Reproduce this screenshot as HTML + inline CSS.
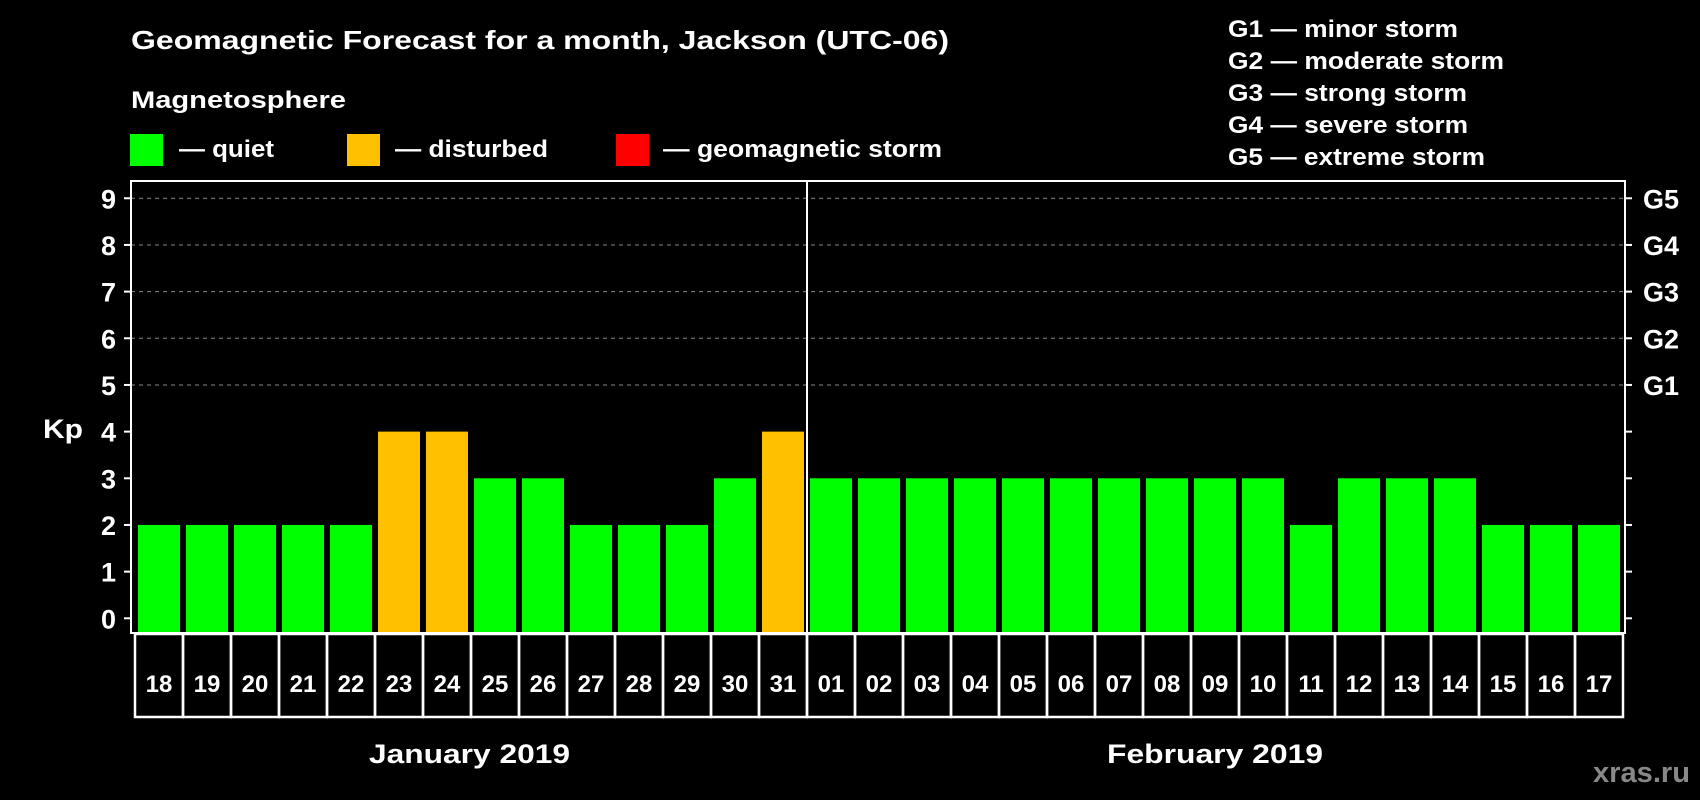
<!DOCTYPE html>
<html><head><meta charset="utf-8"><style>
body{margin:0;background:#000;}
svg{display:block;font-family:"Liberation Sans",sans-serif;font-weight:bold;}
</style></head><body>
<svg id="c" width="1700" height="800" viewBox="0 0 1700 800">
<text x="131" y="49" fill="#fff" font-size="26" textLength="818" lengthAdjust="spacingAndGlyphs">Geomagnetic Forecast for a month, Jackson (UTC-06)</text>
<text x="131" y="108" fill="#fff" font-size="24" textLength="215" lengthAdjust="spacingAndGlyphs">Magnetosphere</text>
<rect x="130" y="134" width="33" height="32" fill="#00ff00"/>
<text x="179" y="157" fill="#fff" font-size="24" textLength="95" lengthAdjust="spacingAndGlyphs">— quiet</text>
<rect x="347" y="134" width="33" height="32" fill="#ffc000"/>
<text x="395" y="157" fill="#fff" font-size="24" textLength="153" lengthAdjust="spacingAndGlyphs">— disturbed</text>
<rect x="616" y="134" width="33" height="32" fill="#ff0000"/>
<text x="663" y="157" fill="#fff" font-size="24" textLength="279" lengthAdjust="spacingAndGlyphs">— geomagnetic storm</text>
<g fill="#fff" font-size="24" lengthAdjust="spacingAndGlyphs">
<text x="1228" y="37" textLength="230" lengthAdjust="spacingAndGlyphs">G1 — minor storm</text>
<text x="1228" y="69" textLength="276" lengthAdjust="spacingAndGlyphs">G2 — moderate storm</text>
<text x="1228" y="101" textLength="239" lengthAdjust="spacingAndGlyphs">G3 — strong storm</text>
<text x="1228" y="133" textLength="240" lengthAdjust="spacingAndGlyphs">G4 — severe storm</text>
<text x="1228" y="165" textLength="257" lengthAdjust="spacingAndGlyphs">G5 — extreme storm</text>
</g>
<text x="43" y="438" fill="#fff" font-size="27" textLength="40" lengthAdjust="spacingAndGlyphs">Kp</text>
<g id="plot"></g>
<text x="369" y="763" fill="#fff" font-size="27" textLength="201" lengthAdjust="spacingAndGlyphs">January 2019</text>
<text x="1107" y="763" fill="#fff" font-size="27" textLength="216" lengthAdjust="spacingAndGlyphs">February 2019</text>
<text x="1593" y="782" fill="#888" font-size="29" textLength="97" lengthAdjust="spacingAndGlyphs">xras.ru</text>
</svg>
<script>
const days=["18","19","20","21","22","23","24","25","26","27","28","29","30","31","01","02","03","04","05","06","07","08","09","10","11","12","13","14","15","16","17"];
const kp=[2,2,2,2,2,4,4,3,3,2,2,2,3,4,3,3,3,3,3,3,3,3,3,3,2,3,3,3,2,2,2];
const yTicks=[0,1,2,3,4,5,6,7,8,9];
const gLabels=["G1","G2","G3","G4","G5"];
const NS="http://www.w3.org/2000/svg";
const g=document.getElementById('plot');
const L=131,R=1625,T=181,B=633,x0=138,step=48,bw=42;
function y(v){return 618.3-v*46.67;}
function x(i){return x0+i*step;}
function mk(tag,a){const e=document.createElementNS(NS,tag);for(const k in a)e.setAttribute(k,a[k]);g.appendChild(e);return e;}
yTicks.forEach(v=>{
 if(v>=5){const gl=mk('line',{x1:L,x2:R,y1:y(v),y2:y(v),stroke:'#888','stroke-dasharray':'4,4','stroke-width':1});
 
 }
 const t1=mk('line',{x1:L-7,x2:L,y1:y(v),y2:y(v),stroke:'#fff','stroke-width':2});
 
 
 const t2=mk('line',{x1:R,x2:R+7,y1:y(v),y2:y(v),stroke:'#fff','stroke-width':2});
 
 
 const tl=mk('text',{x:116,y:y(v)+10,fill:'#fff','font-size':27,'text-anchor':'end'});tl.textContent=v;
 
 
 if(v>=5){const gt=mk('text',{x:1643,y:y(v)+10,fill:'#fff','font-size':27});gt.textContent=gLabels[v-5];
 
 }
});
kp.forEach((v,i)=>{
 const c=v>=5?'#ff0000':(v>=4?'#ffc000':'#00ff00');
 const b=mk('rect',{x:x(i),y:y(v),width:bw,height:B-y(v),fill:c});
 
 
 const bx=mk('rect',{x:x(i)-3,y:B+1,width:step,height:83,fill:'none',stroke:'#fff','stroke-width':2.5});
 
 
 const t=mk('text',{x:x(i)+21,y:B+59,fill:'#fff','font-size':24,'text-anchor':'middle'});t.textContent=days[i];
 
 
});
const fr=mk('rect',{x:L,y:T,width:R-L,height:B-T,fill:'none',stroke:'#fff','stroke-width':2});


const di=days.indexOf("01");
const dv=mk('line',{x1:x(di)-3,x2:x(di)-3,y1:T,y2:B,stroke:'#fff','stroke-width':2});


</script>
</body></html>
